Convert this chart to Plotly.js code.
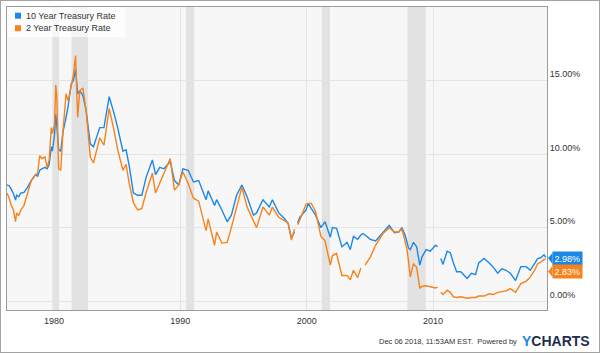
<!DOCTYPE html>
<html>
<head>
<meta charset="utf-8">
<script src="https://cdn.plot.ly/plotly-3.0.1.min.js"></script>
<style>
html,body{margin:0;padding:0;background:#fff;}
#chart{width:598px;height:351px;border:1px solid #a3a3a3;}
</style>
</head>
<body>
<div id="chart"></div>
<script>
// ---- data ----
const dates = [
"1976-04-12","1976-06-15","1976-08-15","1976-10-15","1976-12-15","1977-01-15","1977-03-15","1977-05-15","1977-08-15","1977-11-15",
"1978-03-15","1978-07-15","1978-09-15","1978-11-15","1979-01-15","1979-04-15","1979-06-15","1979-08-15","1979-10-15","1979-11-15",
"1980-01-15","1980-02-20","1980-03-20","1980-05-15","1980-07-15","1980-09-15","1980-12-15","1981-02-15","1981-05-15","1981-07-15",
"1981-09-15","1981-11-15","1982-01-15","1982-04-15","1982-07-15","1982-11-15","1983-02-15","1983-06-15","1983-08-15","1983-12-15",
"1984-05-15","1984-09-15","1985-01-15","1985-06-15","1985-09-15","1985-12-15","1986-04-15","1986-08-15","1986-12-15","1987-04-15",
"1987-10-15","1988-01-15","1988-05-15","1988-09-15","1989-03-15","1989-07-15","1989-11-15","1990-03-15","1990-08-15","1991-01-15",
"1991-06-15","1992-01-15","1992-03-15","1992-09-15","1992-11-15","1993-04-15","1993-09-15","1994-01-15","1994-06-15","1994-11-15",
"1995-04-15","1995-10-15","1996-01-15","1996-07-15","1997-01-15","1997-04-15","1997-10-15","1998-03-15","1998-07-15","1998-10-15",
"1999-01-15","1999-02-15","1999-04-15","1999-06-15","1999-12-15","2000-02-15","2000-05-15","2000-09-15","2001-02-15","2001-06-15",
"2001-11-15","2002-01-15","2002-05-15","2002-10-15","2003-03-15","2003-06-15","2003-09-15","2004-01-15","2004-04-15","2004-06-15",
"2004-08-15","2005-01-15","2005-06-15","2006-01-15","2006-07-15","2006-12-15","2007-04-15","2007-07-15","2007-10-15","2007-12-15",
"2008-01-25","2008-03-15","2008-06-15","2008-09-15","2008-12-15","2009-02-15","2009-06-15","2009-10-15","2010-03-15","2010-05-15",
"2010-06-25","2010-08-15","2010-10-15","2011-02-15","2011-05-15","2011-08-15","2011-11-15","2012-03-15","2012-06-15","2012-09-15",
"2013-01-15","2013-05-15","2013-08-15","2014-01-15","2014-06-15","2014-10-15","2015-02-15","2015-06-15","2015-10-15","2016-02-15",
"2016-07-15","2016-12-15","2017-05-15","2017-09-15","2018-01-15","2018-04-15","2018-07-15","2018-10-15","2018-12-06"
];
const tenYear = [
7.9,7.85,7.6,7.3,6.87,7.2,7.1,7.35,7.4,7.7,
8.2,8.6,8.5,8.9,9.0,9.1,9.0,9.3,10.5,10.2,
11.3,12.7,12.0,10.3,10.2,11.5,12.5,13.3,14.8,15.0,
15.8,14.1,14.3,14.0,13.0,10.7,10.5,11.3,11.8,11.8,
13.9,12.9,11.8,10.2,10.3,9.2,7.35,7.2,7.2,8.4,
9.6,8.6,9.1,9.0,9.5,8.2,7.9,9.0,8.9,8.1,
8.2,6.9,7.5,6.5,6.9,6.2,5.4,5.85,7.2,7.9,
7.1,5.85,6.0,6.9,6.4,6.9,6.0,5.65,5.3,4.3,
4.7,null,5.3,5.7,6.2,6.65,6.3,5.85,5.0,5.4,
4.35,5.0,4.95,3.7,4.0,3.5,4.4,4.2,4.5,4.6,
4.5,4.2,4.1,4.7,5.15,4.65,4.7,5.0,4.5,4.0,
3.6,3.5,4.0,3.7,2.45,3.0,3.5,3.4,3.8,3.7,
null,2.9,2.5,3.4,3.3,2.6,2.0,2.0,1.75,1.55,
1.9,1.8,2.6,2.9,2.6,2.3,1.9,2.2,2.1,1.9,
1.4,2.35,2.35,2.1,2.55,2.9,2.95,3.15,2.98
];
const twoYear = [
7.35,7.0,6.5,6.2,5.4,6.0,5.8,6.2,6.5,7.2,
8.2,8.6,8.7,9.9,9.7,9.8,9.1,9.6,11.8,11.4,
12.0,14.7,14.0,9.0,8.9,11.5,14.1,13.6,14.8,15.4,
16.7,12.5,14.3,14.5,13.0,9.8,9.4,10.5,11.1,10.6,
13.1,11.8,10.3,8.9,9.3,8.0,6.7,6.2,6.3,7.35,
8.7,7.35,8.0,8.7,9.7,7.55,7.9,8.8,8.0,7.0,
6.8,4.8,5.6,3.8,4.7,3.95,4.0,5.0,6.3,7.75,
6.4,5.4,5.0,6.4,5.85,6.4,5.7,5.5,5.3,4.15,
4.9,null,5.2,5.5,6.6,6.65,6.65,6.1,4.4,4.1,
2.45,3.1,3.25,1.75,1.75,1.45,2.1,1.6,2.25,null,
2.45,3.0,3.8,4.6,5.0,4.7,4.7,4.9,4.1,3.45,
2.7,1.65,2.55,2.3,0.9,1.0,1.05,1.0,0.9,0.95,
null,0.6,0.45,0.75,0.6,0.3,0.25,0.3,0.25,0.2,
0.25,0.25,0.35,0.35,0.5,0.45,0.6,0.65,0.7,0.85,
0.6,1.2,1.35,1.65,2.1,2.55,2.65,2.85,2.83
];
const seriesNames = ["10 Year Treasury Rate","2 Year Treasury Rate"];
const recessionStart = ["1979-11-15","1981-05-25","1990-06-15","2001-03-15","2007-12-25"];
const recessionEnd   = ["1980-05-25","1982-09-10","1991-02-05","2001-11-05","2009-06-05"];
const tickVals = ["1980-01-01","1990-01-01","2000-01-01","2010-01-01"];
const tickText = ["1980","1990","2000","2010"];
const yTicks = [0,5,10,15];
const yTickText = ["0.00%","5.00%","10.00%","15.00%"];
const footerText = "Dec 06 2018, 11:53AM EST.  Powered by";

// ---- styling ----
const BLUE = "#1b87e6", ORANGE = "#f7821b";
const FONT = "Liberation Sans, Arial, sans-serif";
// plot area in image pixels: left 7, right 547, top 7, bottom 310
const PL=7, PR=547, PT=7, PB=310;
const px = x => (x-PL)/(PR-PL);
const py = y => (PB-y)/(PB-PT);

const traces = [
  {x: dates, y: tenYear, type:"scatter", mode:"lines", name: seriesNames[0],
   line:{color:BLUE, width:1.4}, connectgaps:false, showlegend:false, hoverinfo:"skip"},
  {x: dates, y: twoYear, type:"scatter", mode:"lines", name: seriesNames[1],
   line:{color:ORANGE, width:1.4}, connectgaps:false, showlegend:false, hoverinfo:"skip"}
];

const shapes = [];
for (let i=0;i<recessionStart.length;i++){
  shapes.push({type:"rect", xref:"x", yref:"paper", x0:recessionStart[i], x1:recessionEnd[i], y0:0, y1:1,
    fillcolor:"#e2e2e2", line:{width:0}, layer:"below"});
}
// legend backdrop
shapes.push({type:"rect", xref:"paper", yref:"paper", x0:0, x1:px(125), y0:py(37), y1:1,
  fillcolor:"rgba(255,255,255,0.7)", line:{width:0}, layer:"above"});
// legend squares
[[BLUE,12.7],[ORANGE,25.2]].forEach(([c,top])=>{
  shapes.push({type:"rect", xref:"paper", yref:"paper", x0:px(15), x1:px(21), y0:py(top+6), y1:py(top),
    fillcolor:c, line:{width:0}, layer:"above"});
});

const lastTen = tenYear[tenYear.length-1], lastTwo = twoYear[twoYear.length-1];
const tagShift = [-1, -12];
const annotations = [
  {xref:"paper", yref:"paper", x:px(25), y:py(15.7), xanchor:"left", yanchor:"middle", showarrow:false,
   text:seriesNames[0], font:{family:FONT, size:9, color:"#333"}, borderpad:0},
  {xref:"paper", yref:"paper", x:px(25), y:py(28.2), xanchor:"left", yanchor:"middle", showarrow:false,
   text:seriesNames[1], font:{family:FONT, size:9, color:"#333"}, borderpad:0},
  {xref:"paper", yref:"y", x:1, y:lastTen, xanchor:"left", yanchor:"middle", xshift:5, yshift:tagShift[0], showarrow:false,
   text:lastTen.toFixed(2)+"%", bgcolor:BLUE, font:{family:FONT, size:9, color:"#fff"}, borderpad:1.5},
  {xref:"paper", yref:"y", x:1, y:lastTwo, xanchor:"left", yanchor:"middle", xshift:5, yshift:tagShift[1], showarrow:false,
   text:lastTwo.toFixed(2)+"%", bgcolor:ORANGE, font:{family:FONT, size:9, color:"#fff"}, borderpad:1.5},
  {xref:"paper", yref:"paper", x:px(518), y:py(341), xanchor:"right", yanchor:"middle", showarrow:false,
   text:footerText, font:{family:FONT, size:7.5, color:"#333"}, borderpad:0},
  {xref:"paper", yref:"paper", x:px(521), y:py(340.5), xanchor:"left", yanchor:"middle", showarrow:false,
   text:"<b><span style='color:#1b87e6'>Y</span>CHARTS</b>", font:{family:FONT, size:14, color:"#1f2d4d"}, borderpad:0}
];
// pointers of the value tags (pixel y grows upward)
[[lastTen,tagShift[0],BLUE],[lastTwo,tagShift[1],ORANGE]].forEach(([v,s,c])=>{
  shapes.push({type:"path", xref:"paper", yref:"y", xsizemode:"pixel", ysizemode:"pixel", xanchor:1, yanchor:v,
    path:`M 1 ${s} L 5.5 ${s+5.5} L 5.5 ${s-5.5} Z`, fillcolor:c, line:{width:0}, layer:"above"});
});

const layout = {
  width:598, height:351,
  margin:{l:PL-1, r:598-(PR-1), t:PT-1, b:351-(PB-1), pad:0},
  paper_bgcolor:"#fff", plot_bgcolor:"#f7f7f7",
  showlegend:false,
  xaxis:{type:"date", range:["1976-04-12","2019-01-10"], tickvals:tickVals, ticktext:tickText,
    showgrid:true, gridcolor:"#e4e4e4", gridwidth:1, zeroline:false,
    showline:true, mirror:true, linecolor:"#9a9a9a", linewidth:1, ticks:"", ticklabelstandoff:2,
    tickfont:{family:FONT, size:9, color:"#333"}},
  yaxis:{range:[-0.6,20], side:"right", tickvals:yTicks, ticktext:yTickText,
    showgrid:true, gridcolor:"#e4e4e4", gridwidth:1, zeroline:false,
    showline:true, mirror:true, linecolor:"#9a9a9a", linewidth:1, ticks:"",
    ticklabelposition:"outside top",
    tickfont:{family:FONT, size:9, color:"#333"}},
  shapes:shapes, annotations:annotations
};
Plotly.newPlot("chart", traces, layout, {staticPlot:true, displayModeBar:false});
</script>
</body>
</html>
